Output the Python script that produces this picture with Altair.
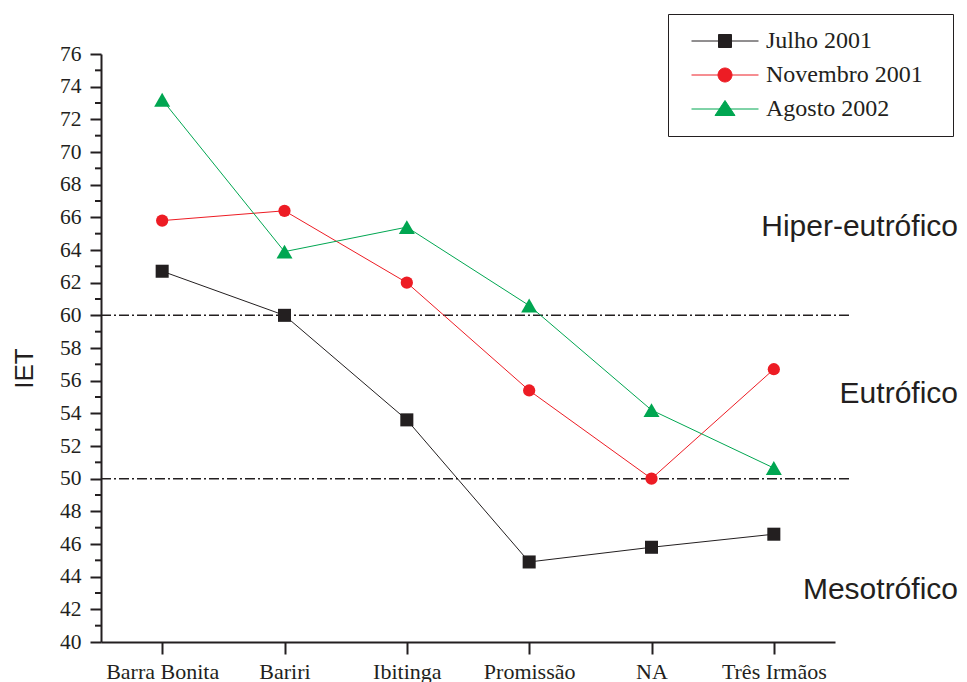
import altair as alt
import pandas as pd

# ---- data ----
sites = ["Barra Bonita", "Bariri", "Ibitinga", "Promissão", "NA", "Três Irmãos"]
series = ["Julho 2001", "Novembro 2001", "Agosto 2002"]
julho = [62.7, 60.0, 53.6, 44.9, 45.8, 46.6]
novembro = [65.8, 66.4, 62.0, 55.4, 50.0, 56.7]
agosto = [73.2, 63.9, 65.4, 60.6, 54.2, 50.65]
thresholds = [60, 50]
major_ticks = list(range(40, 77, 2))
minor_ticks = list(range(41, 76, 2))
zones = ["Hiper-eutrófico", "Eutrófico", "Mesotrófico"]
zone_y = [65.4, 55.2, 43.2]

colors = ["#231F20", "#ED1C24", "#00A651"]
shapes = ["square", "circle", "triangle-up"]
sizes = [170, 150, 256]
INK = "#231F20"

# legend glyphs: a line with the marker on it
legend_shapes = [
    "M-0.35,0H6.35M2.35,-0.65H3.65V0.65H2.35Z",
    "M-0.35,0H6.35M3.7,0A0.7,0.7,0,1,1,2.3,0A0.7,0.7,0,1,1,3.7,0Z",
    "M-0.35,0H6.35M3,-0.85L4,0.65L2,0.65Z",
]

rows = []
for s, vals in zip(series, [julho, novembro, agosto]):
    for i, (site, v) in enumerate(zip(sites, vals)):
        rows.append({"site": site, "series": s, "IET": v, "idx": i})
df = pd.DataFrame(rows)
df_thr = pd.DataFrame({"IET": thresholds})
df_minor = pd.DataFrame({"IET": minor_ticks})
df_zone = pd.DataFrame({"IET": zone_y, "zone": zones})

x_axis = alt.Axis(
    title=None, labelAngle=0, tickSize=12, tickWidth=2, domainWidth=2,
    labelPadding=7, labelFont="Liberation Serif", labelFontSize=22,
    labelColor=INK, tickColor=INK, domainColor=INK, grid=False,
    labelOverlap=False,
)
x_enc = alt.X(
    "site:N", sort=sites,
    scale=alt.Scale(type="point", padding=0.5, domain=sites), axis=x_axis,
)
y_axis = alt.Axis(
    title="IET", values=major_ticks, tickSize=11, tickWidth=2, domainWidth=2,
    labelPadding=9, labelFont="Liberation Serif", labelFontSize=21.5,
    labelColor=INK, tickColor=INK, domainColor=INK, grid=False,
    labelOverlap=False, labelFlush=False,
    titleFont="Liberation Sans", titleFontSize=26, titleFontWeight="normal",
    titleColor=INK, titleAngle=-90, titleX=-69, titleY=314,
    titleBaseline="alphabetic", titleAlign="center",
)
y_scale = alt.Scale(domain=[40, 76], nice=False, zero=False)
y_enc = alt.Y("IET:Q", scale=y_scale, axis=y_axis)

legend = alt.Legend(
    title="\u00a0", titleOrient="right", titlePadding=15,
    titleFont="Liberation Serif", titleFontSize=24,
    orient="none", legendX=567, legendY=-40,
    padding=15, rowPadding=10, labelFont="Liberation Serif", labelFontSize=24,
    labelColor=INK, labelOffset=59, labelLimit=400, symbolSize=400,
    symbolStrokeWidth=1, strokeColor=INK,
)

# layer that draws nothing itself and only carries the legend (first, so its legend wins)
legend_layer = alt.Chart(df).mark_point(filled=True, opacity=1, strokeWidth=1).encode(
    x=x_enc, y=y_enc,
    color=alt.Color("series:N", scale=alt.Scale(domain=series, range=colors), legend=legend),
    stroke=alt.Stroke("series:N", scale=alt.Scale(domain=series, range=colors), legend=legend),
    shape=alt.Shape("series:N", scale=alt.Scale(domain=series, range=legend_shapes), legend=legend),
).transform_filter("false")

thr = alt.Chart(df_thr).mark_rule(
    strokeDash=[10, 3, 2, 3], strokeWidth=1.5, color=INK
).encode(y=y_enc, x=alt.value(0), x2=alt.value(751))

minor = alt.Chart(df_minor).mark_rule(strokeWidth=2, color=INK).encode(
    y=y_enc, x=alt.value(-6), x2=alt.value(0)
)

lines = alt.Chart(df).mark_line(strokeWidth=1).encode(
    x=x_enc, y=y_enc,
    color=alt.Color("series:N", scale=alt.Scale(domain=series, range=colors), legend=legend),
    order=alt.Order("idx:Q"),
)

point_layers = []
for s, c, sh, sz in zip(series, colors, shapes, sizes):
    point_layers.append(
        alt.Chart(df[df["series"] == s]).mark_point(
            filled=True, opacity=1, shape=sh, size=sz, color=c
        ).encode(x=x_enc, y=y_enc)
    )

zone_text = alt.Chart(df_zone).mark_text(
    font="Liberation Sans", fontSize=30, align="right", baseline="middle", color=INK
).encode(y=y_enc, x=alt.value(857), text="zone:N")

chart = alt.layer(legend_layer, thr, minor, lines, *point_layers, zone_text).properties(
    width=734, height=588, autosize=alt.AutoSizeParams(type="none"),
    padding={"left": 93, "top": 46, "right": 124, "bottom": 40},
).configure_view(stroke=None)

chart.save("out.html", embed_options={"renderer": "svg", "actions": False})
